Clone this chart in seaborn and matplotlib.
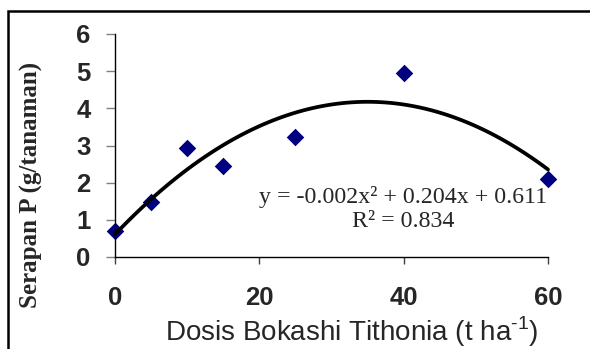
import numpy as np
import pandas as pd
import matplotlib
matplotlib.use("Agg")
import matplotlib.pyplot as plt
import seaborn as sns
from matplotlib.patches import Rectangle

dosis = [0, 5, 10, 15, 25, 40, 60]
serapan = [0.71, 1.49, 2.92, 2.45, 3.24, 4.95, 2.11]
x_ticks = [0, 20, 40, 60]
y_ticks = [0, 1, 2, 3, 4, 5, 6]
eq_text = "y = -0.002x\u00b2 + 0.204x + 0.611\nR\u00b2 = 0.834"

df = pd.DataFrame({"dosis": dosis, "serapan": serapan})

sns.set_style("white")
plt.rcParams["font.family"] = ["Liberation Sans", "DejaVu Sans"]

fig = plt.figure(figsize=(5.9, 3.49), dpi=100)
ax = fig.add_axes([115/590, 1-257/349, 433/590, 223/349])

sns.regplot(data=df, x="dosis", y="serapan", order=2, ci=None, ax=ax,
            marker="D",
            scatter_kws={"s": 80, "color": "#000080", "linewidths": 0,
                         "alpha": 1, "clip_on": False, "zorder": 2},
            line_kws={"color": "black", "lw": 2.7, "zorder": 3,
                      "clip_on": False})

ax.set_xlim(0, 60)
ax.set_ylim(0, 6)
ax.set_xticks(x_ticks)
ax.set_yticks(y_ticks)
ax.set_xticklabels([str(v) for v in x_ticks], fontsize=18.5, fontweight="bold")
ax.set_yticklabels([str(v) for v in y_ticks], fontsize=18.5, fontweight="bold")
ax.tick_params(axis="y", direction="out", length=6.5, width=1, color="#808080",
               pad=11, left=True)
ax.tick_params(axis="x", direction="out", length=5, width=1, color="#404040",
               pad=16, bottom=True)

for s in ["top", "right"]:
    ax.spines[s].set_visible(False)
for s in ["left", "bottom"]:
    ax.spines[s].set_color("black")
    ax.spines[s].set_linewidth(1.0)

ax.set_xlabel("Dosis Bokashi Tithonia (t ha$^{\\mathregular{\u20101}}$)", fontsize=20)
ax.xaxis.set_label_coords(0.547, -0.26)
ax.set_ylabel("Serapan P (g/tanaman)", fontsize=18, fontweight="bold",
              family=["Liberation Serif"])
ax.yaxis.set_label_coords(-0.166, 0.323)

ax.text(0.665, 0.215, eq_text, transform=ax.transAxes, ha="center",
        va="center", multialignment="center", fontsize=17.2,
        family=["Liberation Serif"], linespacing=1.2)

fig.add_artist(Rectangle((8/590, -0.1), 1.2, 1.1 - 11/349,
                         transform=fig.transFigure, fill=False,
                         edgecolor="black", lw=1.8, clip_on=False))

fig.savefig("out.png", dpi=100)
